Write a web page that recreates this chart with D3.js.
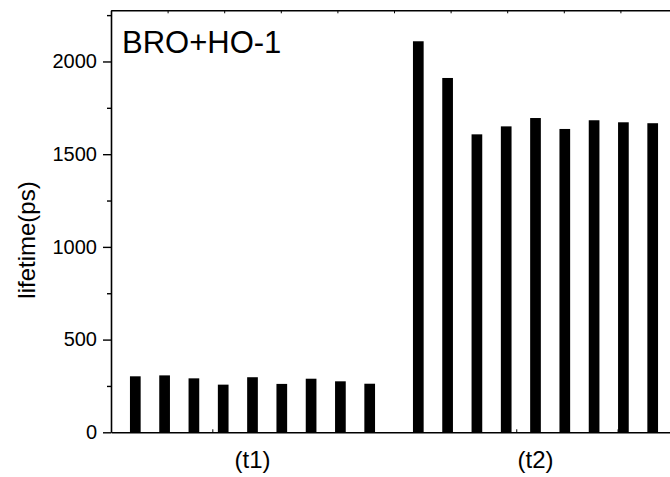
<!DOCTYPE html>
<html>
<head>
<meta charset="utf-8">
<script src="https://cdn.jsdelivr.net/npm/d3@7"></script>
<style>
  html, body { margin: 0; padding: 0; background: #fff; }
  svg { display: block; font-family: Arial, "Liberation Sans", sans-serif; }
</style>
</head>
<body>
<svg id="chart" width="670" height="477"></svg>
<script>
// Lifetime components for the BRO+HO-1 sample, nine measurements per component
const categories = ["(t1)", "(t2)"];
const measurements = ["1", "2", "3", "4", "5", "6", "7", "8", "9"];
const t1Values = [302, 307, 291, 257, 297, 261, 289, 275, 262];
const t2Values = [2109, 1911, 1607, 1650, 1695, 1636, 1683, 1672, 1667];
const yTickValues = [0, 500, 1000, 1500, 2000];
const yMinorTickValues = [250, 750, 1250, 1750, 2250];
const chartTitle = "BRO+HO-1";
const yTitle = "lifetime(ps)";

const valuesByCategory = { "(t1)": t1Values, "(t2)": t2Values };
const rows = categories.flatMap(c =>
  measurements.map((m, i) => ({ category: c, measurement: m, value: valuesByCategory[c][i] }))
);

const svg = d3.select("#chart");
const plot = { left: 111, right: 677, top: 10.3, bottom: 432.3 };

// Scales
const x = d3.scaleBand().domain(categories).range([plot.left, plot.right]).padding(0);
const xInner = d3.scaleBand().domain(measurements).range([0, x.bandwidth()])
  .paddingInner(0.635).paddingOuter(0.647);
const y = d3.scaleLinear().domain([0, 2276]).range([plot.bottom, plot.top]);
// continuous companion of the category axis, used for the frame's minor ticks
const xCont = d3.scaleLinear().domain([0.5, 2.5]).range([plot.left, plot.right]);

// Bars
svg.append("g")
  .selectAll("rect")
  .data(rows)
  .join("rect")
  .attr("x", d => x(d.category) + xInner(d.measurement))
  .attr("width", xInner.bandwidth())
  .attr("y", d => y(d.value))
  .attr("height", d => y(0) - y(d.value))
  .attr("fill", "#000");

// Left axis: major ticks with labels, outward minor ticks
const yAxis = svg.append("g")
  .attr("transform", `translate(${plot.left},0)`)
  .call(d3.axisLeft(y).tickValues(yTickValues).tickFormat(d3.format("d"))
    .tickSize(8).tickPadding(6).tickSizeOuter(0));
yAxis.select(".domain").attr("stroke-width", 1.6);
yAxis.selectAll(".tick line").attr("stroke-width", 1.4);
yAxis.selectAll(".tick text").attr("font-size", 20).attr("fill", "#000")
  .attr("font-family", "Arial, 'Liberation Sans', sans-serif");

svg.append("g")
  .attr("transform", `translate(${plot.left},0)`)
  .call(d3.axisLeft(y).tickValues(yMinorTickValues).tickSize(4).tickFormat("").tickSizeOuter(0))
  .call(g => g.select(".domain").remove())
  .selectAll(".tick line").attr("stroke-width", 1.4);

// Bottom axis line with small inward ticks
const bottomAxis = svg.append("g")
  .attr("transform", `translate(0,${plot.bottom})`)
  .call(d3.axisTop(xCont).tickValues(d3.range(0.5, 2.5, 0.358)).tickSize(3).tickFormat("").tickSizeOuter(0));
bottomAxis.select(".domain").attr("stroke-width", 1.6);
bottomAxis.selectAll(".tick line").attr("stroke-width", 1);

// Top frame line with small inward ticks
const topAxis = svg.append("g")
  .attr("transform", `translate(0,${plot.top})`)
  .call(d3.axisBottom(xCont).tickValues(d3.range(0.5, 2.5, 0.2)).tickSize(3).tickFormat("").tickSizeOuter(0));
topAxis.select(".domain").attr("stroke-width", 1.6);
topAxis.selectAll(".tick line").attr("stroke-width", 1);

// Category labels
svg.append("g")
  .selectAll("text")
  .data(categories)
  .join("text")
  .attr("x", d => x(d) + x.bandwidth() / 2)
  .attr("y", 468)
  .attr("text-anchor", "middle")
  .attr("font-size", 24)
  .attr("fill", "#000")
  .text(d => d);

// Y axis title
svg.append("text")
  .attr("transform", "translate(34.5,240) rotate(-90)")
  .attr("text-anchor", "middle")
  .attr("font-size", 24)
  .attr("fill", "#000")
  .text(yTitle);

// Sample name inside the frame
svg.append("text")
  .attr("x", 122)
  .attr("y", 53.3)
  .attr("font-size", 31)
  .attr("fill", "#000")
  .text(chartTitle);
</script>
</body>
</html>
